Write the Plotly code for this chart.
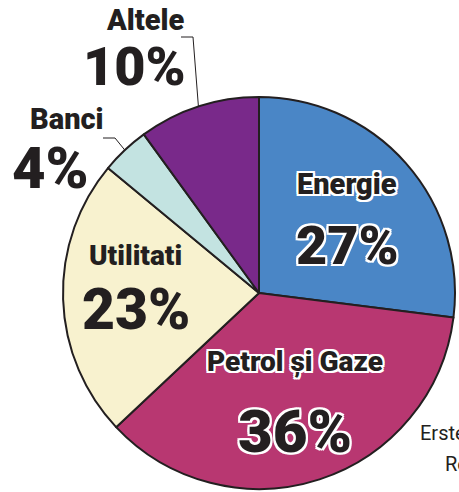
import math
import plotly.graph_objects as go

# ---- data ----
categories = ["Energie", "Petrol și Gaze", "Utilitati", "Banci", "Altele"]
values = [27, 36, 23, 4, 10]
pct_labels = ["27%", "36%", "23%", "4%", "10%"]
colors = ["#4a86c6", "#b83771", "#f8f2cf", "#c3e3e1", "#79298a"]

W, H = 459, 492
# pie square in pixels
PX0, PX1, PY0, PY1 = 63, 455, 97, 489
CX, CY, R = (PX0 + PX1) / 2, (PY0 + PY1) / 2, (PX1 - PX0) / 2

def px(x):
    return x / W

def py(y):
    return 1 - y / H

FONT = "Roboto, Liberation Sans, sans-serif"
INK = "#231f20"
halo = ", ".join(f"{dx}px {dy}px 0 #ffffff" for dx in (-2, 0, 2) for dy in (-2, 0, 2) if dx or dy)

fig = go.Figure(go.Pie(
    labels=categories, values=values, sort=False, direction="clockwise", rotation=0,
    marker=dict(colors=colors, line=dict(color=INK, width=2)),
    textinfo="none", hoverinfo="label+percent", showlegend=False,
    domain=dict(x=[px(PX0), px(PX1)], y=[py(PY1), py(PY0)]),
))

# label placements (pixel positions of text centres)
place = {
    "Energie": (347, 184, 347, 245, True, 29, 54),
    "Petrol și Gaze": (295, 361, 295, 431, True, 28, 60),
    "Utilitati": (135, 255, 136, 309, False, 28, 57),
    "Banci": (67, 119, 50, 168, False, 29, 58),
    "Altele": (145, 20, 134, 66, False, 29, 54),
}

ann = []
for cat, pct in zip(categories, pct_labels):
    lx, ly, nx, ny, outl, fs1, fs2 = place[cat]
    sh = halo if outl else "none"
    ann.append(dict(text=cat, x=px(lx), y=py(ly), xref="paper", yref="paper",
                    showarrow=False, xanchor="center", yanchor="middle",
                    font=dict(family=FONT, size=fs1, color=INK, weight=900, shadow=sh)))
    ann.append(dict(text=pct, x=px(nx), y=py(ny), xref="paper", yref="paper",
                    showarrow=False, xanchor="center", yanchor="middle",
                    font=dict(family=FONT, size=fs2, color=INK, weight=900, shadow=sh)))

# source text (partially cut off at the right edge)
ann.append(dict(text="Erste Group", x=px(418), y=py(433), xref="paper", yref="paper",
                showarrow=False, xanchor="left", yanchor="middle",
                font=dict(family=FONT, size=20, color=INK)))
ann.append(dict(text="Research", x=px(443), y=py(464), xref="paper", yref="paper",
                showarrow=False, xanchor="left", yanchor="middle",
                font=dict(family=FONT, size=20, color=INK)))

# leader lines for outside labels, ending at slice mid-angle on the rim
total = sum(values)
cum = 0
mids = {}
for cat, v in zip(categories, values):
    mids[cat] = (cum + v / 2) / total * 2 * math.pi
    cum += v

shapes = []
leader_start = {"Altele": (181, 37, 193), "Banci": (103, 138, 115)}
for cat, (x0, y0, x1) in leader_start.items():
    a = mids[cat]
    ex, ey = CX + R * math.sin(a), CY - R * math.cos(a)
    path = f"M {px(x0)} {py(y0)} L {px(x1)} {py(y0)} L {px(ex)} {py(ey)}"
    shapes.append(dict(type="path", path=path, xref="paper", yref="paper",
                       line=dict(color=INK, width=1)))

fig.update_layout(
    width=W, height=H, margin=dict(l=0, r=0, t=0, b=0),
    paper_bgcolor="white", plot_bgcolor="white",
    annotations=ann, shapes=shapes,
)
fig.write_html("out.html", config={"displayModeBar": False},
               post_script="document.body.style.margin='0px';")
